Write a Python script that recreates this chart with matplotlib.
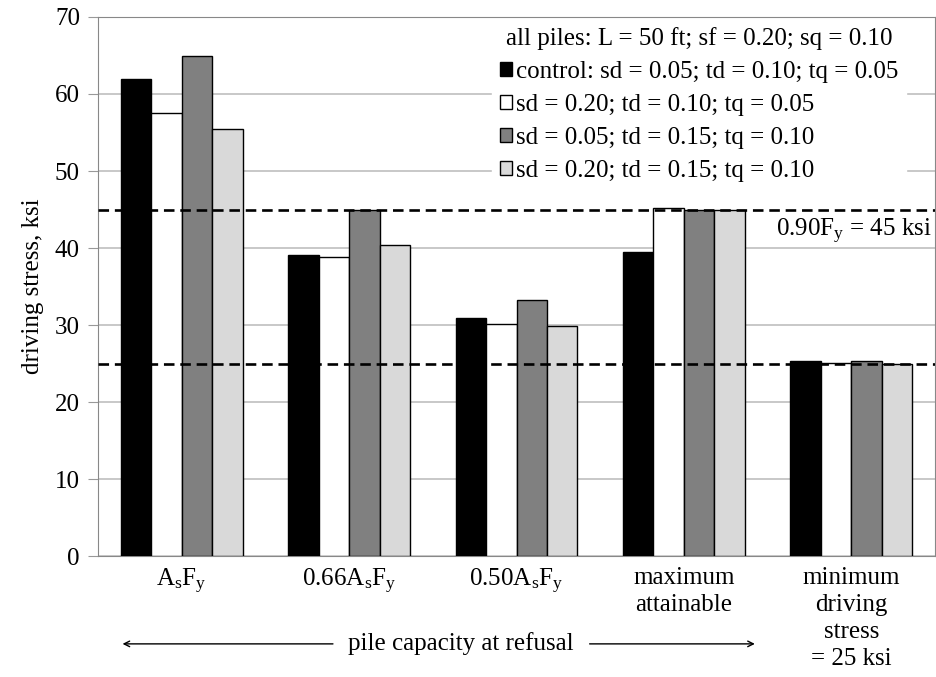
import matplotlib
matplotlib.use("Agg")
from matplotlib import pyplot as plt
import numpy as np

plt.rcParams['font.family'] = ['Liberation Serif', 'DejaVu Serif']
plt.rcParams['mathtext.fontset'] = 'custom'
plt.rcParams['mathtext.rm'] = 'Liberation Serif'
plt.rcParams['mathtext.it'] = 'Liberation Serif'

categories = ["A$_\\mathrm{s}$F$_\\mathrm{y}$", "0.66A$_\\mathrm{s}$F$_\\mathrm{y}$",
              "0.50A$_\\mathrm{s}$F$_\\mathrm{y}$", "maximum\nattainable",
              "minimum\ndriving\nstress\n= 25 ksi"]
series_names = ["control: sd = 0.05; td = 0.10; tq = 0.05",
                "sd = 0.20; td = 0.10; tq = 0.05",
                "sd = 0.05; td = 0.15; tq = 0.10",
                "sd = 0.20; td = 0.15; tq = 0.10"]
control = [62.0, 39.1, 30.9, 39.5, 25.3]
sd20_td10 = [57.5, 38.8, 30.1, 45.2, 25.1]
sd05_td15 = [64.9, 44.9, 33.2, 44.9, 25.3]
sd20_td15 = [55.4, 40.4, 29.9, 44.9, 25.0]
yield_line = 45
min_line = 25

fig = plt.figure(figsize=(9.36, 6.77), dpi=100)
ax = fig.add_axes([0.1047, 0.1787, 0.8943, 0.7962])

x = np.arange(len(categories))
w = 0.182
colors = ["black", "white", "#808080", "#d9d9d9"]
for i, (vals, name, c) in enumerate(zip([control, sd20_td10, sd05_td15, sd20_td15],
                                        series_names, colors)):
    ax.bar(x + (i - 1.5) * w, vals, w, color=c, edgecolor="black",
           linewidth=1.0, label=name, zorder=3)

ax.axhline(yield_line, color="black", ls=(0, (4, 2.2)), lw=1.9, zorder=4)
ax.axhline(min_line, color="black", ls=(0, (4, 2.2)), lw=1.9, zorder=4)
ax.text(0.996, 42.1, "0.90F$_\\mathrm{y}$ = 45 ksi", transform=ax.get_yaxis_transform(),
        ha="right", va="center", fontsize=18, zorder=5)

ax.set_xlim(-0.5, 4.5)
ax.set_ylim(0, 70)
ax.set_yticks(range(0, 71, 10))
ax.set_xticks(x)
ax.set_xticklabels(categories, fontsize=18, linespacing=1.3)
ax.tick_params(axis="y", labelsize=18, length=7, color="#999999", pad=6)
ax.tick_params(axis="x", length=0, pad=8)
ax.grid(axis="y", color="#bfbfbf", lw=1.2, zorder=0)
for s in ax.spines.values():
    s.set_color("#888888")
ax.set_ylabel("driving stress, ksi", fontsize=18, labelpad=8)

leg = ax.legend(title="all piles: L = 50 ft; sf = 0.20; sq = 0.10", loc="upper right",
                bbox_to_anchor=(0.965, 0.995),
                fontsize=18, title_fontsize=18, frameon=True, edgecolor="white",
                framealpha=1, fancybox=False, handlelength=0.5, handleheight=0.5,
                handletextpad=0.15, labelspacing=0.44, borderaxespad=0.0,
                borderpad=0.3)
leg.set_zorder(6)

# arrows either side of the label under the category names
ax.annotate("", xy=(-0.37, -0.163), xytext=(0.92, -0.163), xycoords=("data", "axes fraction"),
            arrowprops=dict(arrowstyle="->", lw=1.0))
ax.annotate("", xy=(3.44, -0.163), xytext=(2.42, -0.163), xycoords=("data", "axes fraction"),
            arrowprops=dict(arrowstyle="->", lw=1.0))
ax.text(1.67, -0.163, "pile capacity at refusal", transform=ax.get_xaxis_transform(),
        ha="center", va="center", fontsize=18)

fig.savefig("out.png", dpi=100)
